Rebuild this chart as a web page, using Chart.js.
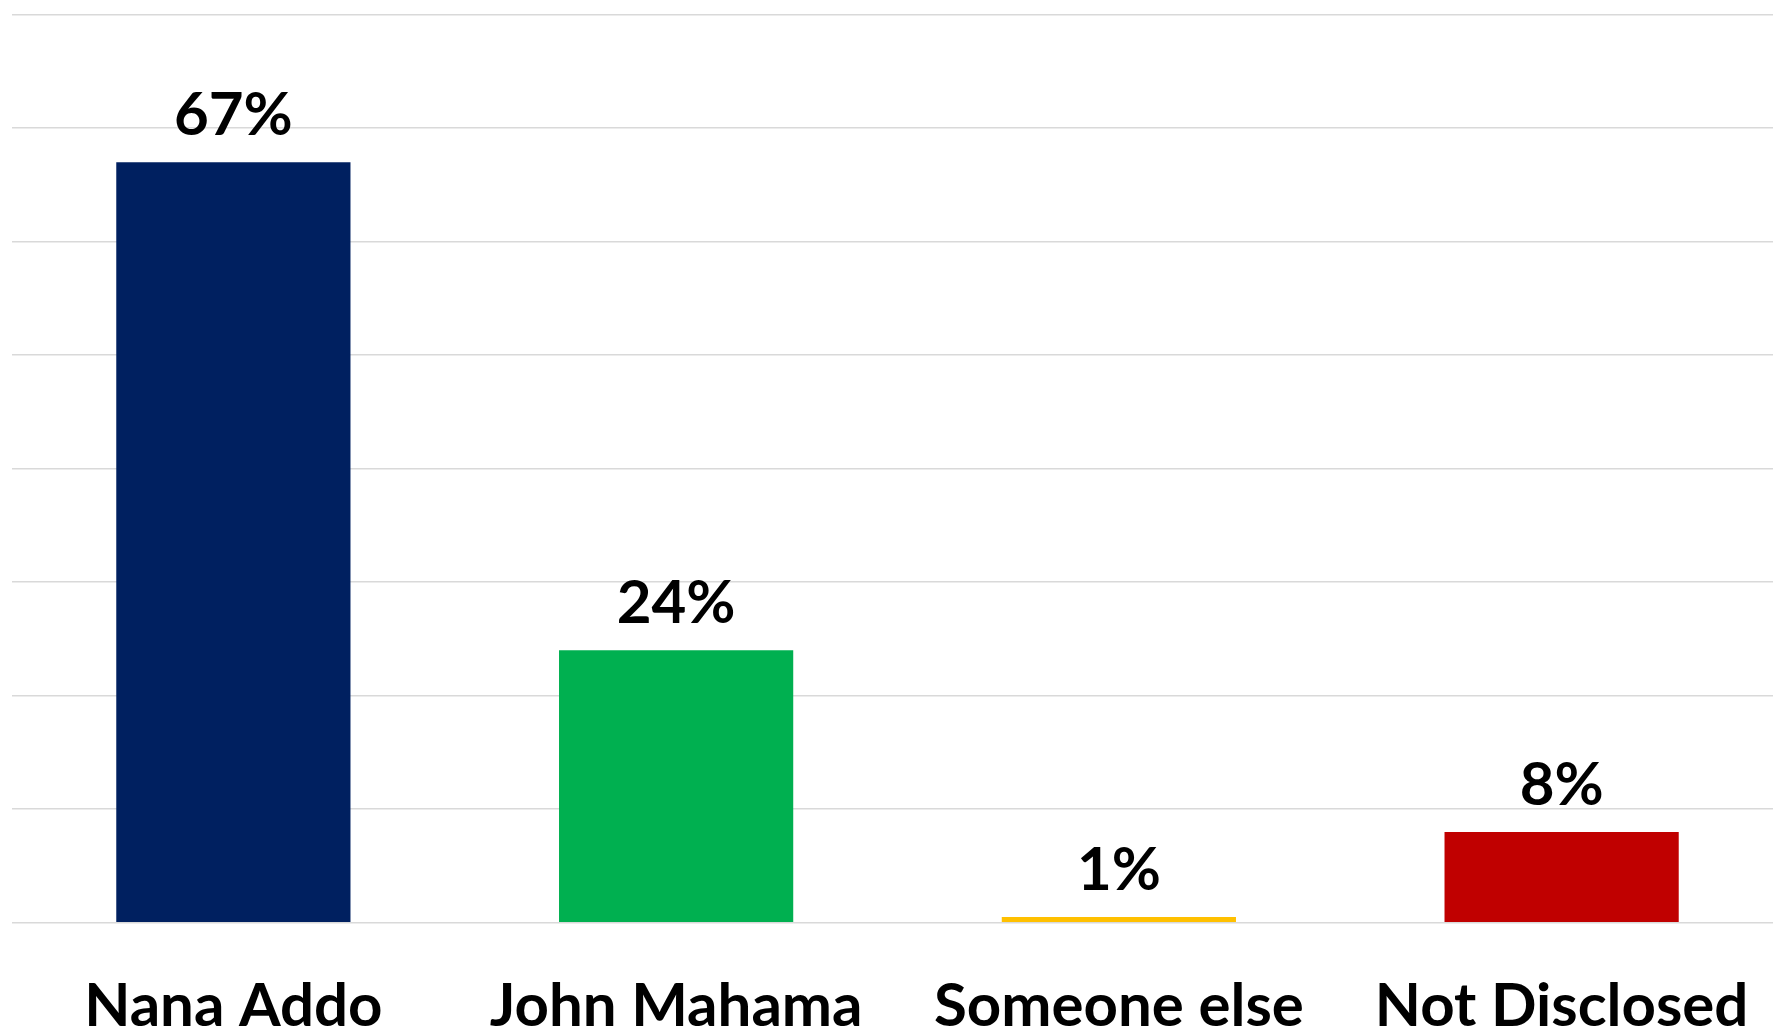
<!DOCTYPE html>
<html>
<head>
<meta charset="utf-8">
<script src="https://cdn.jsdelivr.net/npm/chart.js@4/dist/chart.umd.min.js"></script>
<style>
  html, body { margin: 0; padding: 0; background: #ffffff; overflow: hidden; }
  #wrap { position: absolute; left: 0; top: 0; width: 1783px; height: 1029px; }
</style>
</head>
<body>
<div id="wrap"><canvas id="c"></canvas></div>
<script>
const categories = ["Nana Addo", "John Mahama", "Someone else", "Not Disclosed"];
const values = [67, 24, 0.5, 8];
const valueLabels = ["67%", "24%", "1%", "8%"];
const barColors = ["#002060", "#00B050", "#FFC000", "#C00000"];
const yMin = 0, yMax = 80, yStep = 10;

const FONT = "Lato, 'Open Sans', sans-serif";

const valueLabelPlugin = {
  id: 'valueLabels',
  afterDatasetsDraw(chart) {
    const ctx = chart.ctx;
    const meta = chart.getDatasetMeta(0);
    ctx.save();
    ctx.font = "bold 60px " + FONT;
    ctx.fillStyle = "#000000";
    ctx.textAlign = "center";
    ctx.textBaseline = "alphabetic";
    meta.data.forEach((bar, i) => {
      ctx.fillText(valueLabels[i], bar.x, bar.y - 27);
    });
    ctx.restore();
  }
};

new Chart(document.getElementById('c'), {
  type: 'bar',
  data: {
    labels: categories,
    datasets: [{
      data: values,
      backgroundColor: barColors,
      borderWidth: 0,
      categoryPercentage: 1.0,
      barPercentage: 0.529
    }]
  },
  options: {
    responsive: true,
    maintainAspectRatio: false,
    animation: false,
    layout: { padding: { left: 12, right: 0, top: 14.7, bottom: 0 } },
    plugins: { legend: { display: false }, tooltip: { enabled: false } },
    scales: {
      x: {
        grid: { display: false, drawTicks: false },
        border: { display: false },
        ticks: {
          color: "#000000",
          font: { family: FONT, size: 60, weight: 'bold' },
          padding: 48,
          maxRotation: 0,
          autoSkip: false
        },
        afterFit(scale) {
          scale.height = 1029 - 922.7;
          scale.paddingLeft = 0;
          scale.paddingRight = 0;
        }
      },
      y: {
        min: yMin, max: yMax,
        ticks: { display: false, stepSize: yStep },
        grid: { color: "#d9d9d9", lineWidth: 1.5, drawTicks: false },
        border: { display: false },
        afterFit(scale) { scale.width = 0; }
      }
    }
  },
  plugins: [valueLabelPlugin]
});
</script>
</body>
</html>
